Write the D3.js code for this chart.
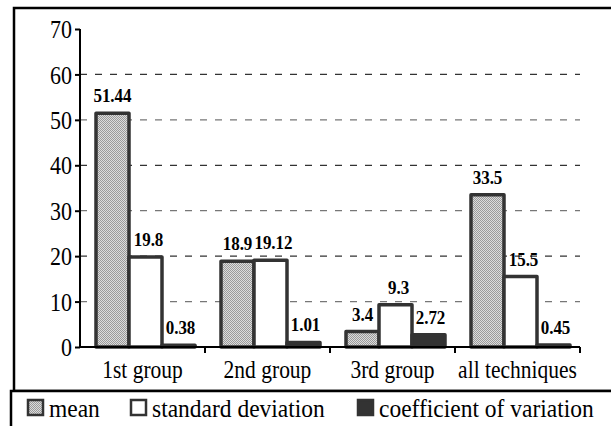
<!DOCTYPE html>
<html><head><meta charset="utf-8">
<script src="https://cdn.jsdelivr.net/npm/d3@7"></script>
</head><body style="margin:0;background:#fff">
<svg id="c" width="611" height="426" style="display:block"></svg>
<script>
const categories = ["1st group", "2nd group", "3rd group", "all techniques"];
const seriesNames = ["mean", "standard deviation", "coefficient of variation"];
const meanValues = [51.44, 18.9, 3.4, 33.5];
const stdValues = [19.8, 19.12, 9.3, 15.5];
const cvValues = [0.38, 1.01, 2.72, 0.45];
const yTicks = [0, 10, 20, 30, 40, 50, 60, 70];

const FONT = '"Liberation Serif", "Times New Roman", serif';
const svg = d3.select("#c");
const defs = svg.append("defs");
const pat = defs.append("pattern").attr("id","dots").attr("width",2).attr("height",2).attr("patternUnits","userSpaceOnUse");
pat.append("rect").attr("width",2).attr("height",2).attr("fill","#dcdcdc");
pat.append("rect").attr("width",1).attr("height",1).attr("fill","#9a9a9a");
pat.append("rect").attr("x",1).attr("y",1).attr("width",1).attr("height",1).attr("fill","#9a9a9a");

const fills = ["url(#dots)", "#ffffff", "#333333"];
const seriesVals = [meanValues, stdValues, cvValues];
const labelShift = [0, 3, 2];

// frames
svg.append("rect").attr("x",14).attr("y",8).attr("width",620).attr("height",383)
  .attr("fill","none").attr("stroke","#000").attr("stroke-width",2.5);
svg.append("rect").attr("x",11).attr("y",391).attr("width",620).attr("height",60)
  .attr("fill","#fff").attr("stroke","#000").attr("stroke-width",2.5);

const y = d3.scaleLinear().domain([0,70]).range([347,29]);
const x = d3.scaleBand().domain(categories).range([80,580]);
const xs = d3.scaleBand().domain(seriesNames).range([16,115]);

// gridlines
svg.append("g").selectAll("line").data(yTicks.filter(t=>t>0 && t<70)).join("line")
  .attr("x1",80).attr("x2",580).attr("y1",d=>y(d)).attr("y2",d=>y(d))
  .attr("stroke",d=>d%20===0?"#333":"#777").attr("stroke-width",1.3)
  .attr("stroke-dasharray","7,8");

// bars
const data = [];
categories.forEach((c,ci)=>seriesNames.forEach((s,si)=>data.push({c,s,si,v:seriesVals[si][ci]})));
svg.append("g").selectAll("rect").data(data).join("rect")
  .attr("x",d=>x(d.c)+xs(d.s)).attr("width",xs.bandwidth())
  .attr("y",d=>y(d.v)).attr("height",d=>y(0)-y(d.v))
  .attr("fill",d=>fills[d.si]).attr("stroke","#333").attr("stroke-width",3.5)
  .attr("stroke-linejoin","round");

// value labels
svg.append("g").selectAll("text").data(data).join("text")
  .attr("transform",d=>`translate(${x(d.c)+xs(d.s)+xs.bandwidth()/2+labelShift[d.si]},${y(d.v)-11}) scale(1,1.1)`)
  .attr("text-anchor","middle")
  .style("font-family",FONT).style("font-weight","bold").style("font-size","17px").attr("fill","#000")
  .text(d=>d.v);

// axes
const yAxis = svg.append("g").attr("transform","translate(80,0)")
  .call(d3.axisLeft(y).tickValues(yTicks).tickSize(5).tickPadding(3).tickFormat(d3.format("d")));
yAxis.attr("font-family",FONT);
yAxis.select(".domain").attr("stroke","#000").attr("stroke-width",2).attr("d","M0,29V347");
yAxis.selectAll(".tick line").attr("stroke","#000").attr("stroke-width",2);
yAxis.selectAll("text").style("font-family",FONT).style("font-size","22px").attr("fill","#000")
  .attr("dy","0.34em").attr("transform","scale(1,1.15)");

const xAxis = svg.append("g").attr("transform","translate(0,347)")
  .call(d3.axisBottom(x).tickSize(0));
xAxis.attr("font-family",FONT);
xAxis.select(".domain").attr("stroke","#000").attr("stroke-width",2).attr("d","M79,0H580");
xAxis.selectAll("text").style("font-family",FONT).style("font-size","21.5px").attr("fill","#000")
  .attr("y",null).attr("dy",null).attr("transform","translate(0,31) scale(1,1.15)");
svg.append("g").selectAll("line").data([205,330,455,580]).join("line")
  .attr("x1",d=>d).attr("x2",d=>d).attr("y1",347).attr("y2",353)
  .attr("stroke","#000").attr("stroke-width",2);

// legend
const legX = [27, 130, 357];
const leg = svg.append("g").selectAll("g").data(seriesNames).join("g")
  .attr("transform",(d,i)=>`translate(${legX[i]},399)`);
leg.append("rect").attr("x",1).attr("y",1).attr("width",15).attr("height",15)
  .attr("fill",(d,i)=>fills[i]).attr("stroke","#333").attr("stroke-width",2.5);
leg.append("text").attr("transform","translate(22,18) scale(1,1.1)")
  .style("font-family",FONT).style("font-size","23.5px").attr("fill","#000")
  .text(d=>d);
</script>
</body></html>
